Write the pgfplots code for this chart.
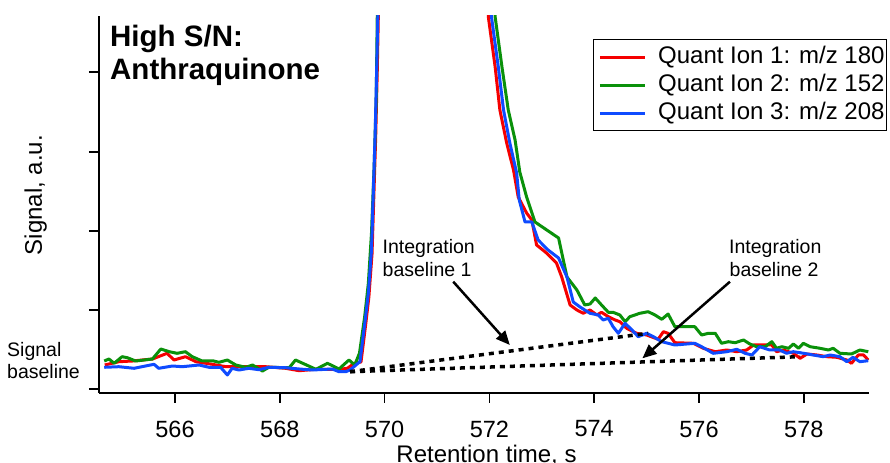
\documentclass[border=0pt]{standalone}
\usepackage{fontspec}
\setmainfont{Liberation Sans}
\usepackage{pgfplots}
\pgfplotsset{compat=1.18}
\usetikzlibrary{arrows.meta}
\definecolor{cred}{RGB}{245,0,0}
\definecolor{cgreen}{RGB}{10,145,10}
\definecolor{cblue}{RGB}{15,75,255}
\begin{document}
\begin{tikzpicture}
\begin{axis}[
 at={(0,0)}, anchor=south west,
 scale only axis, width=770bp, height=377bp,
 xmin=564.55, xmax=579.244, ymin=-4, ymax=373,
 axis x line=bottom, axis y line=left,
 axis line style={line width=1.8bp, -},
 tick align=outside, major tick length=10bp,
 tick style={line width=1.8bp, black},
 xtick={566,568,...,578}, ytick={0,79,158,237,317}, yticklabels={},
 /pgf/number format/assume math mode=true,
 xticklabel style={font=\fontsize{23.5bp}{28bp}\selectfont, inner sep=0bp, anchor=north, yshift=-17.5bp},
 no markers,
 legend cell align=left,
 legend style={at={(1.0234,0.939)}, anchor=north east, draw=black, line width=1bp, fill=white,
   inner xsep=2bp, inner ysep=3.7bp, font=\fontsize{24bp}{28bp}\selectfont, row sep=0bp,
   nodes={inner xsep=0bp, inner ysep=2bp, text height=18bp, text depth=6bp},
   /tikz/every odd column/.append style={column sep=11.7bp}},
 legend image code/.code={\path[draw=none] (-4.7bp,0bp) -- (45bp,0bp); \draw[#1] (0bp,0bp) -- (45bp,0bp);},
]
\addplot[cred, line width=3bp, line join=round] coordinates {
(564.66,24) (564.93,27.3) (565.19,28) (565.57,30) (565.85,35.7) (565.98,29) (566.20,32.3) (566.40,27.3)
(566.71,24.7) (566.97,22.3) (567.22,22.3) (567.54,22.3) (567.73,22.3) (568.11,20.7) (568.37,18.3)
(568.69,19.7) (569.13,19.7) (569.29,20.7) (569.42,25.7) (569.55,27) (569.64,65) (569.70,92)
(569.76,135) (569.79,185) (569.83,252) (569.86,318) (569.88,372) (569.96,700) (570.2,1500)
(570.8,2500) (571.4,1500) (571.76,700) (571.98,372) (572.11,322) (572.20,279) (572.33,246)
(572.46,219) (572.55,192) (572.71,176) (572.81,169) (572.90,144) (573.09,136) (573.28,126)
(573.38,112) (573.54,84) (573.67,79) (573.79,75.7) (573.92,79) (574.05,74) (574.14,76.7)
(574.27,72.3) (574.40,69) (574.49,67.3) (574.62,60.7) (574.81,55.7) (575.00,54) (575.22,49.7)
(575.32,57.3) (575.41,55.7) (575.54,46.3) (575.89,45.7) (576.08,40.7) (576.31,37.3) (576.53,39)
(576.72,37.3) (576.91,39) (577.04,44) (577.23,44) (577.39,44) (577.48,37.3) (577.61,39)
(577.80,35.7) (577.93,30.7) (578.06,35) (578.25,34) (578.44,32.3) (578.63,31.7) (578.82,29)
(578.91,25.7) (579.04,34) (579.14,34) (579.23,29)
};
\addplot[cgreen, line width=3bp, line join=round] coordinates {
(564.65,28) (564.74,30) (564.84,25.7) (564.99,32.3) (565.09,31.3) (565.25,28) (565.57,30) (565.73,40)
(565.89,37.3) (566.04,35.7) (566.20,37.3) (566.33,32.3) (566.52,28) (566.74,28) (566.84,26.7)
(567.00,29) (567.16,24) (567.35,21.7) (567.48,24) (567.67,18) (567.79,21.7) (568.18,21.3)
(568.30,29) (568.69,19.7) (568.91,25.7) (569.13,20) (569.32,29) (569.43,24) (569.52,35.7)
(569.62,72.3) (569.69,105.7) (569.75,156) (569.80,222) (569.84,289) (569.86,372) (569.94,700)
(570.2,1500) (570.8,2500) (571.5,1500) (571.86,700) (572.11,372) (572.24,322) (572.36,279)
(572.49,249) (572.58,217) (572.71,192) (572.87,167) (573.32,151) (573.48,112) (573.67,99)
(573.82,84) (573.92,85) (574.02,91) (574.14,84) (574.27,76.7) (574.36,76.7) (574.49,74)
(574.59,67.3) (574.68,72.3) (574.87,75.7) (575.03,77.3) (575.16,74) (575.29,69.7) (575.41,75)
(575.54,62.3) (575.92,62.3) (576.05,54) (576.18,55.7) (576.31,55.7) (576.43,45.7) (576.56,47.3)
(576.69,46.3) (576.85,49) (576.97,45) (577.10,42.3) (577.26,42.3) (577.39,47.3) (577.48,40.7)
(577.58,42.3) (577.71,40.7) (577.80,45) (577.90,40.7) (577.99,45.7) (578.12,42.3) (578.31,40.7)
(578.47,39) (578.56,40.7) (578.69,35.7) (578.91,35) (579.07,39) (579.23,37.3)
};
\addplot[cblue, line width=3bp, line join=round] coordinates {
(564.65,21.7) (564.93,22.3) (565.22,20.7) (565.60,24.7) (565.69,20.7) (565.95,23) (566.14,22.3)
(566.46,24) (566.65,21.7) (566.87,21.7) (567.00,14) (567.09,20.7) (567.22,19) (567.41,20.7)
(567.60,19.3) (567.79,21.7) (568.11,21.3) (568.37,20) (568.62,19) (569.00,20) (569.13,17.3)
(569.26,17.3) (569.34,19) (569.53,27.3) (569.63,69) (569.69,95.7) (569.75,139) (569.78,189)
(569.82,256) (569.85,322) (569.87,372) (569.95,700) (570.2,1500) (570.8,2500) (571.45,1500)
(571.8,700) (572.04,372) (572.17,322) (572.27,279) (572.39,246) (572.52,216) (572.57,189)
(572.68,167) (572.81,167) (572.93,149) (573.12,139) (573.32,131) (573.48,112) (573.60,87)
(573.73,82) (573.92,75.7) (574.08,74) (574.17,69) (574.27,70.7) (574.36,62.3) (574.46,55.7)
(574.59,65.7) (574.72,59) (574.84,52.3) (575.00,55.7) (575.13,52.3) (575.29,47.3) (575.54,44)
(575.92,45.7) (576.05,42.3) (576.27,35.7) (576.53,37.3) (576.72,39.7) (576.88,35.7) (577.01,34)
(577.16,42.3) (577.35,39) (577.54,39) (577.67,35.7) (577.80,37.3) (577.93,36.3) (578.18,34)
(578.37,32.3) (578.50,34) (578.69,32.3) (578.82,27.3) (578.94,31.7) (579.07,27.3) (579.23,28.3)
};
\legend{Quant Ion 1: m/z 180, Quant Ion 2: m/z 152, Quant Ion 3: m/z 208}
% integration baselines
\addplot[forget plot, black, line width=3.5bp, dash pattern=on 5bp off 5bp] coordinates {(569.34,17.3) (575.03,55.7)};
\addplot[forget plot, black, line width=3.5bp, dash pattern=on 5bp off 5bp] coordinates {(569.34,17.3) (577.93,32.3)};
% arrows
\addplot[forget plot, black, line width=2.5bp, -{Triangle[length=14bp,width=12bp]}] coordinates {(571.31,107.3) (572.39,44)};
\addplot[forget plot, black, line width=2.5bp, -{Triangle[length=14bp,width=12bp]}] coordinates {(576.59,107.3) (574.92,30.7)};
\end{axis}
% title
\node[anchor=base west, inner sep=0pt, font=\fontsize{29.5bp}{33bp}\selectfont\bfseries] at (11bp,346.3bp) {High S/N:};
\node[anchor=base west, inner sep=0pt, font=\fontsize{29.5bp}{33bp}\selectfont\bfseries] at (11bp,313bp) {Anthraquinone};
% annotations
\node[anchor=base west, inner sep=0pt, font=\fontsize{19.5bp}{23bp}\selectfont] at (283.5bp,139.7bp) {Integration};
\node[anchor=base west, inner sep=0pt, font=\fontsize{19.5bp}{23bp}\selectfont] at (283.5bp,116.3bp) {baseline 1};
\node[anchor=base west, inner sep=0pt, font=\fontsize{19.5bp}{23bp}\selectfont] at (630bp,139.7bp) {Integration};
\node[anchor=base west, inner sep=0pt, font=\fontsize{19.5bp}{23bp}\selectfont] at (630.5bp,116.3bp) {baseline 2};
\node[anchor=base west, inner sep=0pt, font=\fontsize{19.5bp}{23bp}\selectfont] at (-92bp,36.3bp) {Signal};
\node[anchor=base west, inner sep=0pt, font=\fontsize{19.5bp}{23bp}\selectfont] at (-92bp,14.7bp) {baseline};
% axis labels
\node[anchor=base, rotate=90, inner sep=0pt, font=\fontsize{24bp}{28bp}\selectfont] at (-57bp,198bp) {Signal, a.u.};
\node[anchor=base, inner sep=0pt, font=\fontsize{24bp}{28bp}\selectfont] at (387.5bp,-69.5bp) {Retention time, s};
\pgfresetboundingbox
\path[use as bounding box] (-99bp,-70bp) rectangle (791bp,393bp);
\end{tikzpicture}
\end{document}
